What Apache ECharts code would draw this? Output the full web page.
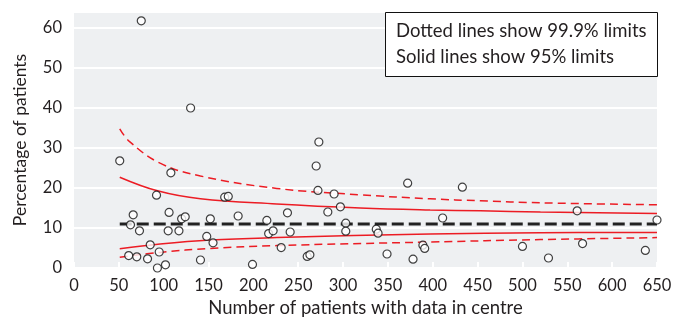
<!DOCTYPE html>
<html>
<head>
<meta charset="utf-8">
<script src="https://cdn.jsdelivr.net/npm/echarts@6/dist/echarts.min.js"></script>
<style>
html,body{margin:0;padding:0;background:#fff;}
#chart{width:687px;height:322px;}
</style>
</head>
<body>
<div id="chart"></div>
<script>
// Centre size (n) and percentage of patients for each centre
const centreN = [51,61,63,66,70,73,75,82,85,92,93,95,102,105,106,108,117,120,124,130,141,148,152,155,168,172,183,199,215,217,222,231,238,241,260,263,270,273,272,283,290,297,303,303,337,339,349,372,378,389,391,411,433,500,529,561,567,637,650];
const centrePct = [26.8,3.1,10.8,13.3,2.8,9.3,61.8,2.3,5.8,18.2,0.0,4.0,0.8,9.3,13.9,23.8,9.3,12.3,12.8,40.0,2.0,7.9,12.3,6.3,17.7,17.9,13.0,0.9,11.9,8.6,9.3,5.1,13.8,9.0,2.9,3.3,25.5,31.5,19.4,14.0,18.5,15.3,11.2,9.2,9.7,8.7,3.5,21.2,2.2,5.7,4.9,12.5,20.2,5.4,2.5,14.3,6.1,4.4,12.0];

// Overall mean
const meanN = [51, 650];
const meanPct = [11.0, 11.0];

// Control limits
const up999N = [51,62,96,141,226,319,397,453,520,650];
const up999V = [34.8,31.6,26.2,23.0,19.9,18.3,17.3,16.8,16.3,15.8];
const up95N = [51,93,141,226,319,397,453,520,650];
const up95V = [22.7,19.3,17.3,16.0,15.0,14.5,14.3,14.0,13.6];
const lo95N = [51,96,152,226,397,520,650];
const lo95V = [4.8,6.0,7.0,7.6,8.5,8.8,8.9];
const lo999N = [51,96,152,226,397,520,650];
const lo999V = [2.7,3.9,4.9,5.6,6.5,7.1,7.6];

// Axis ticks
const xTicks = [0,50,100,150,200,250,300,350,400,450,500,550,600,650];
const yTicks = [0,10,20,30,40,50,60];

const legendLines = ['Dotted lines show 99.9% limits', 'Solid lines show 95% limits'];
const xName = 'Number of patients with data in centre';
const yName = 'Percentage of patients';

const zip = (a, b) => a.map((v, i) => [v, b[i]]);
const FONT = 'Lato';
const TXT = '#231f20';
const RED = '#ec1c24';

const chart = echarts.init(document.getElementById('chart'), null, {renderer: 'canvas'});

const limitSeries = (n, v, dashed) => ({
  type: 'line', data: zip(n, v), smooth: 0.4, symbol: 'none', silent: true, z: 3,
  lineStyle: {color: RED, width: 1.5, type: dashed ? [8, 5] : 'solid'}
});

chart.setOption({
  animation: false,
  textStyle: {fontFamily: FONT},
  grid: {left: 74, right: 30, top: 12, bottom: 54, show: true, backgroundColor: '#eef0f2', borderWidth: 0,
    containLabel: false, outerBoundsMode: 'none'},
  xAxis: {
    type: 'value', min: xTicks[0], max: xTicks[xTicks.length - 1], interval: 50,
    name: xName, nameLocation: 'middle', nameGap: 31,
    nameTextStyle: {fontFamily: FONT, fontSize: 18.5, color: TXT},
    axisLine: {show: false},
    axisTick: {show: true, inside: true, length: 6, lineStyle: {color: '#ffffff', width: 2}},
    splitLine: {show: false},
    axisLabel: {fontFamily: FONT, fontSize: 16.5, color: TXT, margin: 9}
  },
  yAxis: {
    type: 'value', min: 0, max: 64, interval: 10,
    name: yName, nameLocation: 'middle', nameGap: 45, nameRotate: 90,
    nameTextStyle: {fontFamily: FONT, fontSize: 17.5, color: TXT},
    axisLine: {show: false}, axisTick: {show: false},
    splitLine: {show: true, lineStyle: {color: '#ffffff', width: 2}},
    axisLabel: {fontFamily: FONT, fontSize: 16.5, color: TXT, margin: 12, showMaxLabel: false,
      formatter: v => (yTicks.indexOf(v) >= 0 ? String(v) : '')}
  },
  series: [
    limitSeries(up999N, up999V, true),
    limitSeries(up95N, up95V, false),
    limitSeries(lo95N, lo95V, false),
    limitSeries(lo999N, lo999V, true),
    {type: 'line', data: zip(meanN, meanPct), symbol: 'none', silent: true, z: 4,
      lineStyle: {color: '#222222', width: 3, type: [12, 5]}},
    {type: 'scatter', data: zip(centreN, centrePct), symbol: 'circle', symbolSize: 8, clip: false, z: 5,
      itemStyle: {color: '#ffffff', borderColor: '#111111', borderWidth: 1.2}}
  ],
  graphic: [
    {type: 'rect', shape: {x: 385.5, y: 12.5, width: 272, height: 64}, z: 100,
      style: {fill: '#ffffff', stroke: '#111111', lineWidth: 1}},
    {type: 'text', x: 396, y: 31, z: 101,
      style: {text: legendLines[0], font: '18.5px ' + FONT, fill: TXT, textVerticalAlign: 'middle'}},
    {type: 'text', x: 396, y: 57, z: 101,
      style: {text: legendLines[1], font: '18.5px ' + FONT, fill: TXT, textVerticalAlign: 'middle'}}
  ]
});
</script>
</body>
</html>
